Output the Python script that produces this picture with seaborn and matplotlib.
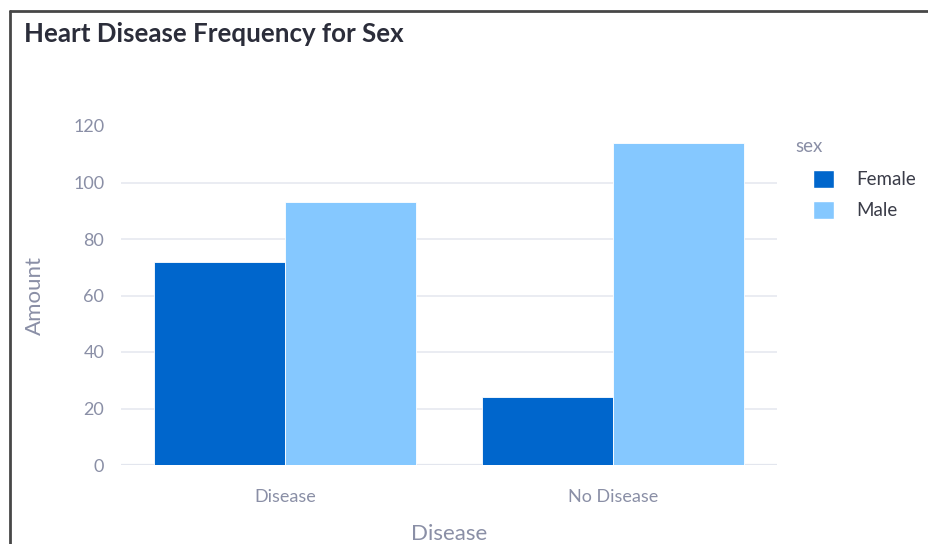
import matplotlib
matplotlib.use("Agg")
import matplotlib.pyplot as plt
from matplotlib.patches import Patch
from matplotlib.lines import Line2D
import pandas as pd
import seaborn as sns

# Heart disease counts split by sex
disease_status = ["Disease", "Disease", "No Disease", "No Disease"]
sex = ["Female", "Male", "Female", "Male"]
amount = [72, 93, 24, 114]

sex_order = ["Female", "Male"]
sex_colors = {"Female": "#0066cc", "Male": "#85c8ff"}
y_ticks = [0, 20, 40, 60, 80, 100, 120]

df = pd.DataFrame({"Disease": disease_status, "sex": sex, "Amount": amount})

sns.set_theme(style="white")
plt.rcParams["font.family"] = ["Lato", "DejaVu Sans"]

TICK_COLOR = "#8a8fa6"
W, H = 929, 544
fig = plt.figure(figsize=(W / 100, H / 100), dpi=100)
ax = fig.add_axes([121 / W, 1 - 465 / H, (777 - 121) / W, (465 - 126) / H])

sns.barplot(data=df, x="Disease", y="Amount", hue="sex", hue_order=sex_order,
            palette=sex_colors, width=0.8, gap=0, edgecolor="white",
            linewidth=0.6, saturation=1, ax=ax, legend=False, zorder=3)

ax.set_xlim(-0.5, 1.5)
ax.set_ylim(0, 120)
ax.set_yticks(y_ticks)
ax.set_yticklabels([str(v) for v in y_ticks])
for s in ax.spines.values():
    s.set_visible(False)

# horizontal grid, skipping the top edge
for v in y_ticks[:-1]:
    ax.axhline(v, color="#e6e9f0" if v else "#e3e6ee", lw=1.2 if v else 1.6, zorder=1)

ax.tick_params(axis="both", length=0, labelsize=13, colors=TICK_COLOR)
ax.tick_params(axis="y", pad=12)
ax.tick_params(axis="x", pad=17)
ax.set_xlabel("Disease", fontsize=16, color=TICK_COLOR, labelpad=14)
ax.set_ylabel("Amount", fontsize=16, color=TICK_COLOR, labelpad=20)

fig.text(24 / W, 1 - 42 / H, "Heart Disease Frequency for Sex", fontsize=18.6,
         fontweight="bold", color="#2b2d3a", ha="left", va="baseline")

# legend
fig.text(795 / W, 1 - 152 / H, "sex", fontsize=13.5, color=TICK_COLOR,
         ha="left", va="baseline")
handles = [Patch(facecolor=sex_colors[k], edgecolor="white", label=k) for k in sex_order]
leg = fig.legend(handles=handles, loc="upper left",
                 bbox_to_anchor=(806 / W, 1 - 162 / H), frameon=False,
                 fontsize=13.5, handlelength=1.1, handleheight=1.1,
                 handletextpad=1.2, labelspacing=0.7, borderaxespad=0)
for t in leg.get_texts():
    t.set_color("#3a3c48")

# outer frame
fig.add_artist(Line2D([10 / W, 10 / W], [0, 1 - 11 / H], transform=fig.transFigure,
                      color="#474747", lw=2))
fig.add_artist(Line2D([10 / W, 1], [1 - 11 / H, 1 - 11 / H], transform=fig.transFigure,
                      color="#474747", lw=2))

fig.savefig("out.png", dpi=100, facecolor="white")
